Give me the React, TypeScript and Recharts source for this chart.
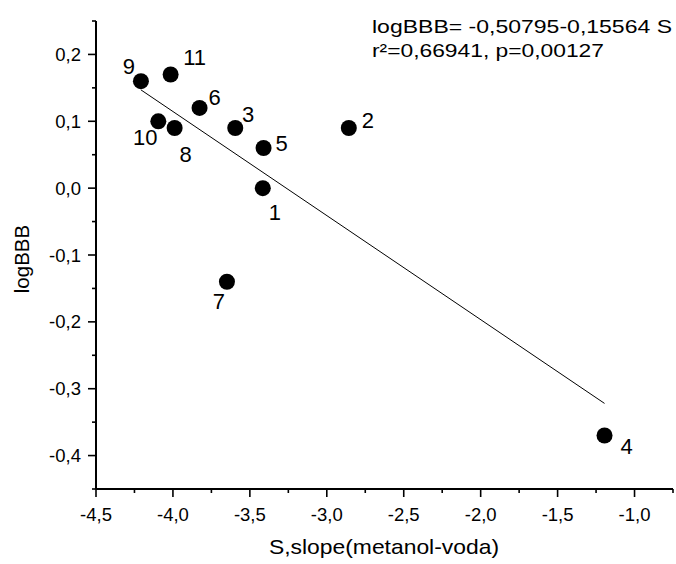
import React from 'react';
import { ScatterChart, Scatter, XAxis, YAxis, ReferenceLine } from 'recharts';

// ---- data ----
const compoundIds = ['1', '2', '3', '4', '5', '6', '7', '8', '9', '10', '11'];
const slopeS = [-3.416, -2.857, -3.595, -1.195, -3.411, -3.827, -3.649, -3.989, -4.208, -4.095, -4.015];
const logBBB = [0.0, 0.09, 0.09, -0.37, 0.06, 0.12, -0.14, 0.09, 0.16, 0.1, 0.17];

const xTicks = [-4.5, -4.25, -4.0, -3.75, -3.5, -3.25, -3.0, -2.75, -2.5, -2.25, -2.0, -1.75, -1.5, -1.25, -1.0, -0.75];
const yTicks = [-0.45, -0.4, -0.35, -0.3, -0.25, -0.2, -0.15, -0.1, -0.05, 0.0, 0.05, 0.1, 0.15, 0.2, 0.25];

const fitIntercept = -0.50795;
const fitSlope = -0.15564;
const fitText1 = 'logBBB= -0,50795-0,15564 S';
const fitText2 = 'r\u00B2=0,66941, p=0,00127';
const xTitle = 'S,slope(metanol-voda)';
const yTitle = 'logBBB';

// ---- style ----
const FONT = '"Liberation Sans", Arial, Helvetica, sans-serif';
const labelOffsets: Record<string, [number, number]> = {
  '1': [12, 24],
  '2': [19, -8],
  '3': [13, -14],
  '4': [22, 10],
  '5': [18, -5],
  '6': [15, -11],
  '7': [-8, 19],
  '8': [11, 26],
  '9': [-12, -15],
  '10': [-13, 16],
  '11': [24, -17],
};

const points = compoundIds.map((id, i) => ({ id, x: slopeS[i], y: logBBB[i] }));
const sMin = Math.min(...slopeS);
const sMax = Math.max(...slopeS);
const fitSegment = [
  { x: sMin, y: fitIntercept + fitSlope * sMin },
  { x: sMax, y: fitIntercept + fitSlope * sMax },
];

const TICK_SIZE = 8;
const TICK_MARGIN = 6;
const isMultiple = (v: number, step: number) => Math.abs(v / step - Math.round(v / step)) < 1e-6;
const fmt = (v: number) => v.toFixed(1).replace('.', ',');

const XTick = (props: any) => {
  const { x, y, payload } = props;
  const v = payload.value as number;
  const major = isMultiple(v, 0.5);
  const axisY = y - TICK_SIZE - TICK_MARGIN;
  return (
    <g>
      <line x1={x} x2={x} y1={axisY} y2={axisY + (major ? 8 : 4)} stroke="#000" strokeWidth={1.6} />
      {major && (
        <text x={x} y={axisY + 32} textAnchor="middle" fontSize={18.5} fontFamily={FONT} fill="#000">
          {fmt(v)}
        </text>
      )}
    </g>
  );
};

const YTick = (props: any) => {
  const { x, y, payload } = props;
  const v = payload.value as number;
  const major = isMultiple(v, 0.1);
  const axisX = x + TICK_SIZE + TICK_MARGIN;
  return (
    <g>
      <line x1={axisX} x2={axisX - (major ? 8 : 4)} y1={y} y2={y} stroke="#000" strokeWidth={1.6} />
      {major && (
        <text x={axisX - 15} y={y + 6.5} textAnchor="end" fontSize={18.5} fontFamily={FONT} fill="#000">
          {fmt(v)}
        </text>
      )}
    </g>
  );
};

const PointShape = (props: any) => {
  const { cx, cy, payload } = props;
  const off = labelOffsets[payload.id] || [12, -10];
  return (
    <g>
      <circle cx={cx} cy={cy} r={8} fill="#000" />
      <text
        x={cx + off[0]}
        y={cy + off[1] + 8}
        textAnchor="middle"
        fontSize={22}
        fontFamily={FONT}
        fill="#000"
      >
        {payload.id}
      </text>
    </g>
  );
};

export default function App() {
  return (
    <div style={{ position: 'absolute', left: 0, top: 0, width: 676, height: 564, background: '#fff' }}>
      <ScatterChart width={676} height={564} margin={{ top: 21, right: 3, bottom: 0, left: 0 }}>
        <XAxis
          type="number"
          dataKey="x"
          domain={[-4.5, -0.75]}
          ticks={xTicks}
          interval={0}
          height={75}
          tickSize={TICK_SIZE}
          tickMargin={TICK_MARGIN}
          tickLine={false}
          tick={<XTick />}
          axisLine={{ stroke: '#000', strokeWidth: 2 }}
          allowDataOverflow
        />
        <YAxis
          type="number"
          dataKey="y"
          domain={[-0.45, 0.25]}
          ticks={yTicks}
          interval={0}
          width={96}
          tickSize={TICK_SIZE}
          tickMargin={TICK_MARGIN}
          tickLine={false}
          tick={<YTick />}
          axisLine={{ stroke: '#000', strokeWidth: 2 }}
          allowDataOverflow
        />
        <ReferenceLine segment={fitSegment} stroke="#000" strokeWidth={1} ifOverflow="visible" />
        <Scatter data={points} shape={<PointShape />} isAnimationActive={false} />
      </ScatterChart>
      <svg
        width={676}
        height={564}
        style={{ position: 'absolute', left: 0, top: 0, pointerEvents: 'none' }}
      >
        <text x={372} y={33} fontSize={19} fontFamily={FONT} fill="#000" textLength={300} lengthAdjust="spacingAndGlyphs">
          {fitText1}
        </text>
        <text x={372} y={57} fontSize={19} fontFamily={FONT} fill="#000" textLength={232} lengthAdjust="spacingAndGlyphs">
          {fitText2}
        </text>
        <text x={384} y={554} textAnchor="middle" fontSize={21} fontFamily={FONT} fill="#000" textLength={230} lengthAdjust="spacingAndGlyphs">
          {xTitle}
        </text>
        <text
          x={0}
          y={0}
          transform="translate(29, 259) rotate(-90)"
          textAnchor="middle"
          fontSize={20.5}
          fontFamily={FONT}
          fill="#000"
        >
          {yTitle}
        </text>
      </svg>
    </div>
  );
}
